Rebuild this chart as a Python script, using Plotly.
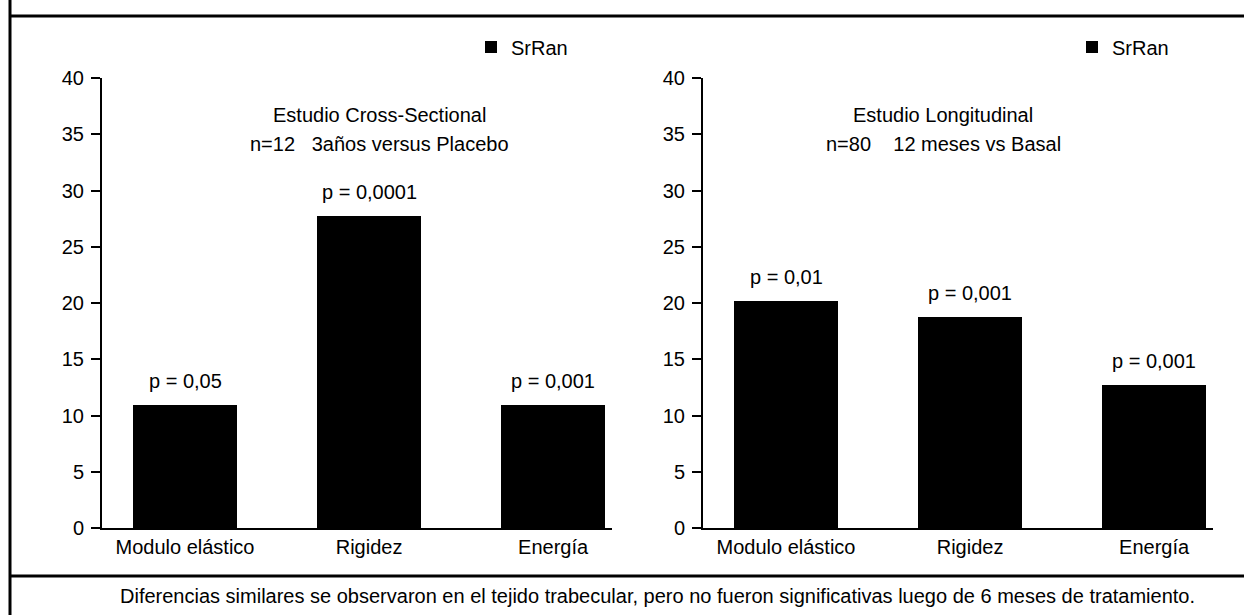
import plotly.graph_objects as go

# ---- data ----
categories = ["Modulo elástico", "Rigidez", "Energía"]
cross_values = [10.9, 27.7, 10.9]
long_values = [20.2, 18.8, 12.7]
cross_p = ["p = 0,05", "p = 0,0001", "p = 0,001"]
long_p = ["p = 0,01", "p = 0,001", "p = 0,001"]
series_name = "SrRan"
y_ticks = [0, 5, 10, 15, 20, 25, 30, 35, 40]
cross_title = ["Estudio Cross-Sectional", "n=12\u00a0\u00a0 3años versus Placebo"]
long_title = ["Estudio Longitudinal", "n=80\u00a0\u00a0\u00a0 12 meses vs Basal"]
footnote = ("Diferencias similares se observaron en el tejido trabecular, "
            "pero no fueron significativas luego de 6 meses de tratamiento.")

W, H = 1244, 615
FONT = "Liberation Sans, Arial, sans-serif"
FS = 20


def fx(px):
    return px / W


def fy(py):
    return (H - py) / H


fig = go.Figure()
fig.add_trace(go.Bar(x=categories, y=cross_values, name=series_name,
                     marker=dict(color="black", line=dict(width=0)),
                     width=0.565, xaxis="x", yaxis="y", legend="legend",
                     showlegend=True))
fig.add_trace(go.Bar(x=categories, y=long_values, name=series_name,
                     marker=dict(color="black", line=dict(width=0)),
                     width=0.565, xaxis="x2", yaxis="y2", legend="legend2",
                     showlegend=True))

xcommon = dict(range=[-0.451, 2.32], showline=True, linecolor="black",
               linewidth=2, ticks="", showgrid=False, zeroline=False,
               tickfont=dict(size=FS, color="black", family=FONT),
               fixedrange=True, type="category")
ycommon = dict(range=[0, 40], tickvals=y_ticks, ticks="outside", ticklen=9,
               tickwidth=2, tickcolor="black", showline=True,
               linecolor="black", linewidth=2, showgrid=False,
               zeroline=False, ticklabelstandoff=3,
               tickfont=dict(size=FS, color="black", family=FONT),
               fixedrange=True)

annotations = []
for cat, v, p in zip(categories, cross_values, cross_p):
    annotations.append(dict(x=cat, y=v, xref="x", yref="y", text=p,
                            showarrow=False, yanchor="middle", yshift=24,
                            font=dict(size=FS, color="black", family=FONT)))
for cat, v, p in zip(categories, long_values, long_p):
    annotations.append(dict(x=cat, y=v, xref="x2", yref="y2", text=p,
                            showarrow=False, yanchor="middle", yshift=24,
                            font=dict(size=FS, color="black", family=FONT)))

for cx, lines in ((379, cross_title), (943, long_title)):
    for py, t in zip((115, 144), lines):
        annotations.append(dict(x=fx(cx), y=fy(py), xref="paper",
                                yref="paper", text=t, showarrow=False,
                                xanchor="center", yanchor="middle",
                                font=dict(size=FS, color="black",
                                          family=FONT)))

annotations.append(dict(x=fx(657), y=fy(596), xref="paper", yref="paper",
                        text=footnote, showarrow=False, xanchor="center",
                        yanchor="middle",
                        font=dict(size=FS, color="black", family=FONT)))

shapes = [
    dict(type="line", xref="paper", yref="paper", x0=fx(10), x1=fx(10),
         y0=0, y1=1, line=dict(color="black", width=3)),
    dict(type="line", xref="paper", yref="paper", x0=fx(10), x1=1,
         y0=fy(16), y1=fy(16), line=dict(color="black", width=3)),
    dict(type="line", xref="paper", yref="paper", x0=fx(10), x1=1,
         y0=fy(576), y1=fy(576), line=dict(color="black", width=3)),
]

legend_common = dict(xanchor="left", yanchor="middle",
                     bgcolor="rgba(0,0,0,0)", itemwidth=30,
                     font=dict(size=FS, color="black", family=FONT))

fig.update_layout(
    width=W, height=H,
    margin=dict(l=0, r=0, t=0, b=0, autoexpand=False),
    paper_bgcolor="white", plot_bgcolor="white",
    font=dict(family=FONT, size=FS, color="black"),
    xaxis=dict(domain=[fx(102), fx(612)], anchor="y", **xcommon),
    yaxis=dict(domain=[fy(528), fy(78)], anchor="x", **ycommon),
    xaxis2=dict(domain=[fx(703), fx(1213)], anchor="y2", **xcommon),
    yaxis2=dict(domain=[fy(528), fy(78)], anchor="x2", **ycommon),
    legend=dict(x=fx(471), y=fy(47), **legend_common),
    legend2=dict(x=fx(1072), y=fy(47), **legend_common),
    annotations=annotations,
    shapes=shapes,
    bargap=0,
)

fig.write_html(
    "out.html",
    config={"displayModeBar": False, "responsive": False},
    post_script="document.body.style.margin='0';"
                "document.body.style.overflow='hidden';",
)
